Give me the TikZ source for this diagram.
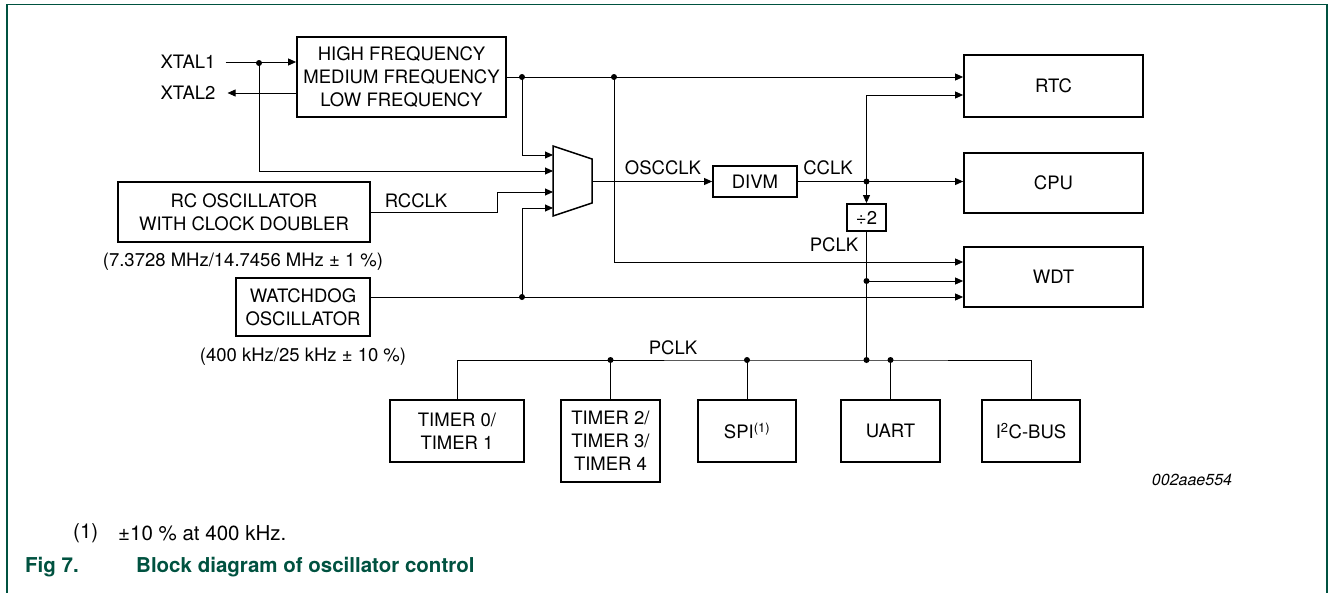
\documentclass[tikz,border=0pt]{standalone}
\usepackage{fontspec}
\setmainfont{TeX Gyre Heros}
\usepackage{xcolor}
\usepackage{tikz}
\usetikzlibrary{arrows.meta}
\definecolor{figgreen}{RGB}{0,82,64}

\tikzset{
  blk/.style={draw, line width=1.8pt, align=center, inner sep=0pt, font=\fontsize{18.5}{23}\selectfont},
  lbl/.style={inner sep=0pt, font=\fontsize{18.5}{23}\selectfont},
  wire/.style={line width=0.9pt},
  sig/.style={line width=0.9pt, -{Triangle[length=8pt,width=7pt]}},
  jn/.style={circle, fill=black, inner sep=0pt, minimum size=6pt},
}

\begin{document}
\begin{tikzpicture}[x=1pt, y=-1pt]
\useasboundingbox (0,0) rectangle (1328,592);
\draw[figgreen, line width=1.2pt] (7,600) -- (7,4.5) -- (1327,4.5) -- (1327,600);

\node[blk, minimum width=209pt, minimum height=80pt] (hf) at (401.5,77) {HIGH FREQUENCY\\MEDIUM FREQUENCY\\LOW FREQUENCY};
\node[blk, minimum width=252pt, minimum height=60pt] (rc) at (244,212) {RC OSCILLATOR\\WITH CLOCK DOUBLER};
\node[blk, minimum width=134pt, minimum height=58pt] (wd) at (303,307) {WATCHDOG\\OSCILLATOR};
\node[blk, minimum width=84pt, minimum height=31pt] (divm) at (755,181.5) {DIVM};
\node[blk, minimum width=39pt, minimum height=27pt] (div2) at (866.5,217.5) {÷2};
\node[blk, minimum width=179pt, minimum height=62pt] (rtc) at (1053.5,86) {RTC};
\node[blk, minimum width=179pt, minimum height=60pt] (cpu) at (1053.5,183) {CPU};
\node[blk, minimum width=179pt, minimum height=60pt] (wdt) at (1053.5,277) {WDT};
\node[blk, minimum width=134pt, minimum height=62pt] (tmr01) at (457,431) {TIMER 0/\\TIMER 1};
\node[blk, minimum width=99pt, minimum height=82pt] (tmr234) at (610.5,441) {TIMER 2/\\TIMER 3/\\TIMER 4};
\node[blk, minimum width=98pt, minimum height=62pt] (spi) at (747,431) {SPI\textsuperscript{(1)}};
\node[blk, minimum width=99pt, minimum height=62pt] (uart) at (890.5,431) {UART};
\node[blk, minimum width=98pt, minimum height=62pt] (i2c) at (1031,431) {I\textsuperscript{2}C-BUS};

\draw[line width=1.5pt] (553,146) -- (592,159) -- (592,203) -- (553,216) -- cycle;
\coordinate (mi1) at (553,155);
\coordinate (mi2) at (553,171);
\coordinate (mi3) at (553,192);
\coordinate (mi4) at (553,208);
\coordinate (mo) at (592,181.5);

\node[jn] (jx1) at (259,63) {};
\node[jn] (jhf1) at (522,77) {};
\node[jn] (jhf2) at (614,77) {};
\node[jn] (jwd) at (522,297) {};
\node[jn] (jcclk) at (866.5,181.5) {};
\node[jn] (jp1) at (866.5,281) {};
\node[jn] (jp2) at (866.5,360) {};
\node[jn] (jb1) at (610.5,360) {};
\node[jn] (jb2) at (747,360) {};
\node[jn] (jb3) at (890.5,360) {};

\node[lbl] (xtal1) at (188,62) {XTAL1};
\node[lbl] (xtal2) at (188,93) {XTAL2};
\node[lbl] (rcclk) at (416,201) {RCCLK};
\node[lbl] (oscclk) at (663,168) {OSCCLK};
\node[lbl] (cclk) at (828,168) {CCLK};
\node[lbl] (pclka) at (834,245) {PCLK};
\node[lbl] (pclkb) at (673,348) {PCLK};
\node[lbl] (rcfreq) at (243,262) {(7.3728 MHz/14.7456 MHz ± 1 \%)};
\node[lbl] (wdfreq) at (303,357) {(400 kHz/25 kHz ± 10 \%)};
\node[lbl, font=\itshape\fontsize{16}{19}\selectfont] (figid) at (1192,480) {002aae554};
\node[lbl, anchor=west, font=\fontsize{20.5}{24}\selectfont] (fnmark) at (73,533) {(1)};
\node[lbl, anchor=west, font=\fontsize{20.5}{24}\selectfont] (fntext) at (118,533) {±10 \% at 400 kHz.};
\node[lbl, anchor=west, text=figgreen, font=\bfseries\fontsize{20.5}{24}\selectfont] (fignum) at (25,567) {Fig 7.};
\node[lbl, anchor=west, text=figgreen, font=\bfseries\fontsize{20.5}{24}\selectfont] (figtitle) at (136,567) {Block diagram of oscillator control};

\draw[sig] ([xshift=10pt]xtal1.east) -- (hf.west |- xtal1.east);
\draw[sig] (hf.west |- xtal2.east) -- ([xshift=12pt]xtal2.east);
\draw[sig] (jx1.center) |- (mi2);
\draw[sig] (hf.east) -- ([yshift=9pt]rtc.west);
\draw[sig] (jhf1.center) |- (mi1);
\draw[sig] (jhf2.center) |- ([yshift=15pt]wdt.west);
\draw[sig] (rc.east) -- ++(127,0) |- (mi3);
\draw[sig] (jwd.center) |- (mi4);
\draw[sig] ([yshift=10pt]wd.east) -- ([yshift=-20pt]wdt.west);
\draw[sig] (mo) -- (divm.west);
\draw[sig] (divm.east) -- (cpu.west |- divm.east);
\draw[sig] (jcclk.center) |- ([yshift=-9pt]rtc.west);
\draw[sig] (jcclk.center) -- (div2.north);
\draw[wire] (div2.south) -- (jp2.center);
\draw[sig] (jp1.center) -- ([yshift=-4pt]wdt.west);
\draw[wire] (tmr01.north) |- (jp2.center) -| (i2c.north);
\draw[wire] (jb1.center) -- (tmr234.north);
\draw[wire] (jb2.center) -- (spi.north);
\draw[wire] (jb3.center) -- (uart.north);
\end{tikzpicture}
\end{document}
